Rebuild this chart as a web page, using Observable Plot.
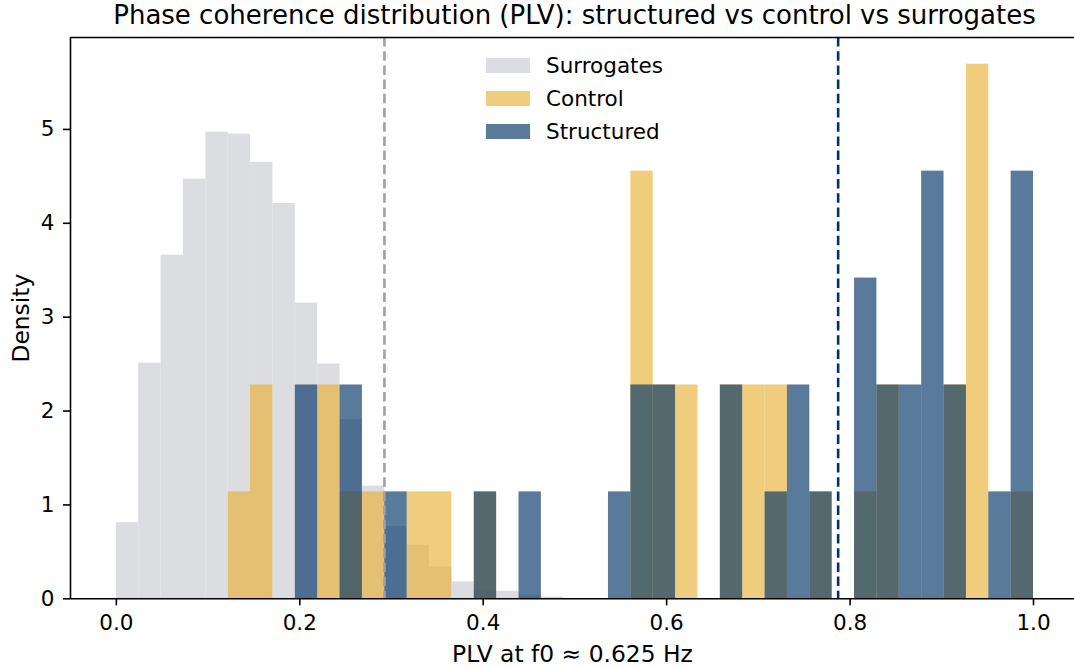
<!DOCTYPE html>
<html>
<head>
<meta charset="utf-8">
<script src="https://cdn.jsdelivr.net/npm/d3@7"></script>
<script src="https://cdn.jsdelivr.net/npm/@observablehq/plot@0.6"></script>
<style>
  body { margin: 0; background: #fff; overflow: hidden; font-family: "DejaVu Sans", sans-serif; color: #000; }
  #wrap { position: relative; width: 1074px; height: 668px; overflow: hidden; }
  #title { position: absolute; left: 70px; width: 1009px; top: 0; height: 30px; line-height: 30px;
           text-align: center; font-size: 26px; white-space: nowrap; }
  #chart { position: absolute; left: 0; top: 30px; }
  #legend { position: absolute; left: 486px; top: 49px; font-size: 21.5px; }
  .row { display: flex; align-items: center; height: 32.9px; white-space: nowrap; }
  .patch { width: 44px; height: 15px; margin-right: 16px; }
</style>
</head>
<body>
<div id="wrap">
  <div id="title"></div>
  <div id="chart"></div>
  <div id="legend"></div>
</div>
<script>
// ---- data ----
const titleText = "Phase coherence distribution (PLV): structured vs control vs surrogates";
const xLabel = "PLV at f0 ≈ 0.625 Hz";
const yLabel = "Density";
const seriesNames = ["Surrogates", "Control", "Structured"];
const seriesColors = ["#dcdde0", "#e8b237", "#003366"];
const seriesOpacity = [1, 0.65, 0.65];
const binCount = 41;               // common bins over [0, 1]
const surrogateDensity = [0.81, 2.51, 3.66, 4.47, 4.97, 4.95, 4.65, 4.21, 3.15, 2.50,
                          1.91, 1.20, 0.77, 0.57, 0.34, 0.18, 0.09, 0.08, 0.04, 0.02,
                          0, 0, 0, 0, 0, 0, 0, 0, 0, 0,
                          0, 0, 0, 0, 0, 0, 0, 0, 0, 0, 0];
const controlCounts = [0, 0, 0, 0, 0, 1, 2, 0, 0, 2,
                       1, 1, 0, 1, 1, 0, 1, 0, 0, 0,
                       0, 0, 0, 4, 2, 2, 0, 2, 2, 2,
                       0, 1, 0, 1, 2, 0, 0, 2, 5, 0, 1];
const structuredCounts = [0, 0, 0, 0, 0, 0, 0, 0, 2, 0,
                          2, 0, 1, 0, 0, 0, 1, 0, 1, 0,
                          0, 0, 1, 2, 2, 0, 0, 2, 0, 1,
                          2, 1, 0, 3, 2, 2, 4, 2, 0, 1, 4];
const surrogateThreshold = [0.2923];
const structuredMarker = [0.787];
const xTicks = [0, 0.2, 0.4, 0.6, 0.8, 1.0];
const yTicks = [0, 1, 2, 3, 4, 5];
const xDomain = [-0.05, 1.0447];

// ---- derived tables ----
const bw = 1 / binCount;
function toBins(vals, isCounts) {
  const n = d3.sum(vals);
  return vals.map((v, i) => ({
    x1: i * bw, x2: (i + 1) * bw,
    y: isCounts ? v / (n * bw) : v
  })).filter(d => d.y > 0);
}
const surr = toBins(surrogateDensity, false);
const ctrl = toBins(controlCounts, true);
const strc = toBins(structuredCounts, true);
const yMax = d3.max([...surr, ...ctrl, ...strc], d => d.y) * 1.05;

document.getElementById("title").textContent = titleText;

const bar = (data, k) => Plot.rectY(data, {
  x1: "x1", x2: "x2", y: "y",
  fill: seriesColors[k], fillOpacity: seriesOpacity[k], inset: 0
});

const chart = Plot.plot({
  width: 1074, height: 638,
  marginTop: 7, marginLeft: 70, marginRight: 0, marginBottom: 69.7,
  style: { fontFamily: "DejaVu Sans", fontSize: "21.5px", color: "#000", background: "#fff", overflow: "visible" },
  x: { domain: xDomain },
  y: { domain: [0, yMax] },
  marks: [
    bar(surr, 0), bar(ctrl, 1), bar(strc, 2),
    Plot.ruleX(surrogateThreshold, { stroke: "#a0a0a5", strokeWidth: 2.6, strokeDasharray: "9.5,4.7" }),
    Plot.ruleX(structuredMarker, { stroke: "#003366", strokeWidth: 2.6, strokeDasharray: "9.5,4.7" }),
    Plot.ruleY([0], { stroke: "#000", strokeWidth: 1.6 }),
    Plot.ruleY([yMax], { stroke: "#000", strokeWidth: 1.6 }),
    Plot.ruleX([xDomain[0]], { stroke: "#000", strokeWidth: 1.6 }),
    Plot.axisX({ ticks: xTicks, tickFormat: d3.format(".1f"), tickSize: 7, tickPadding: 9,
                 label: null, stroke: "#000", strokeWidth: 1.6, fill: "#000", fontSize: 21.5 }),
    Plot.axisY({ ticks: yTicks, tickFormat: d3.format("d"), tickSize: 7, tickPadding: 9,
                 label: null, stroke: "#000", strokeWidth: 1.6, fill: "#000", fontSize: 21.5 }),
    Plot.text([xLabel], { text: d => d, frameAnchor: "bottom", dy: 63.5, lineAnchor: "bottom",
                          textAnchor: "middle", fontSize: 23.4, fill: "#000" }),
    Plot.text([yLabel], { text: d => d, frameAnchor: "left", rotate: -90, dx: -42,
                          textAnchor: "middle", lineAnchor: "bottom", fontSize: 23.4, fill: "#000" })
  ]
});
document.getElementById("chart").appendChild(chart);

// legend
const leg = document.getElementById("legend");
seriesNames.forEach((name, k) => {
  const row = document.createElement("div");
  row.className = "row";
  const p = document.createElement("div");
  p.className = "patch";
  p.style.background = seriesColors[k];
  p.style.opacity = seriesOpacity[k];
  const t = document.createElement("span");
  t.textContent = name;
  row.appendChild(p); row.appendChild(t);
  leg.appendChild(row);
});
</script>
</body>
</html>
